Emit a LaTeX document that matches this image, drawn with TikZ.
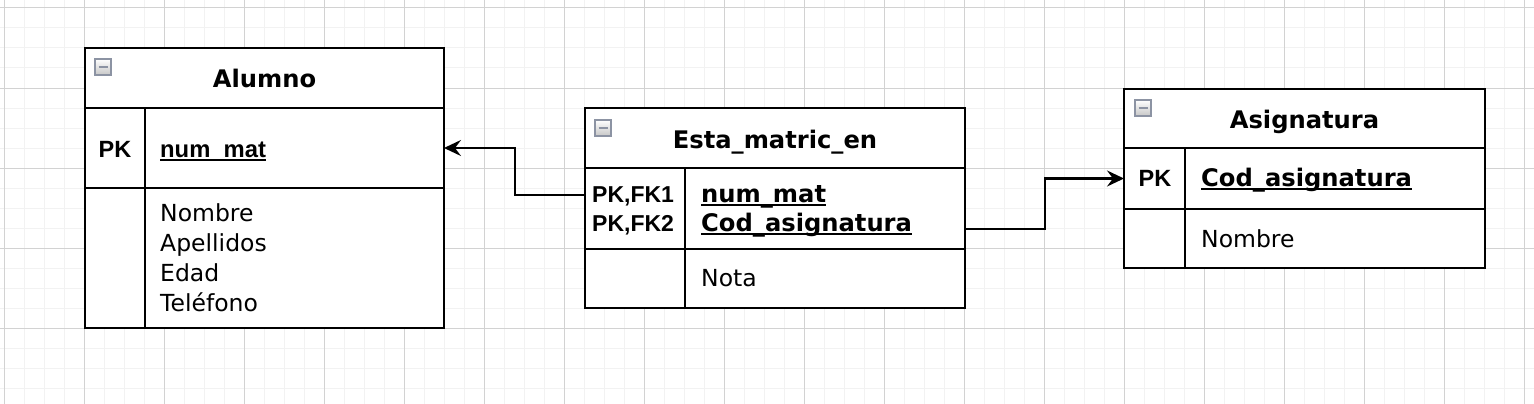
\documentclass[tikz,border=0pt]{standalone}
\usepackage{fontspec}
\setmainfont{DejaVu Sans}
\newfontfamily\helv{Liberation Sans}
\usetikzlibrary{arrows.meta}
\definecolor{rejillamenor}{HTML}{F2F2F2}
\definecolor{rejillamayor}{HTML}{D2D2D2}
\definecolor{bordeicono}{HTML}{8C93A3}
\tikzset{
  fila/.style={draw, line width=2.4, anchor=north west, inner sep=0, outer sep=0, fill=white},
  titulo/.style={anchor=base, inner sep=0, font=\fontsize{24.2}{28}\selectfont\bfseries},
  clave/.style={anchor=base, inner sep=0, font=\fontsize{23.5}{28}\selectfont\helv\bfseries},
  clavelista/.style={anchor=base west, inner sep=0, font=\fontsize{23}{28}\selectfont\helv\bfseries},
  campo/.style={anchor=base west, inner sep=0, font=\fontsize{23.5}{28}\selectfont},
  campopk/.style={campo, font=\fontsize{24.2}{28}\selectfont\bfseries},
  campopkh/.style={campo, font=\fontsize{23.8}{28}\selectfont\helv\bfseries},
  icono/.style={draw=bordeicono, line width=1.5, minimum size=16, inner sep=0,
    top color=white, bottom color=black!22,
    path picture={\draw[line width=2.5] ([xshift=-4.5]path picture bounding box.center) -- ([xshift=4.5]path picture bounding box.center);}},
  subrayado/.style={line width=2},
  relacion/.style={line width=2.2, -{Stealth[length=17, width=16, inset=6]}}
}
\begin{document}
\begin{tikzpicture}[x=1pt, y=-1pt]
\useasboundingbox (0,0) rectangle (1534,404);
\fill[white] (0,0) rectangle (1534,404);

\foreach \x in {4,24,...,1524} \draw[rejillamenor, line width=1] (\x,0) -- (\x,404);
\foreach \y in {8,28,...,404} \draw[rejillamenor, line width=1] (0,\y) -- (1534,\y);
\foreach \x in {4,84,...,1524} \draw[rejillamayor, line width=1] (\x,0) -- (\x,404);
\foreach \y in {8,88,...,404} \draw[rejillamayor, line width=1] (0,\y) -- (1534,\y);

\node[fila, minimum width=359, minimum height=60] (alumnotit) at (85,48) {};
\node[fila, minimum width=359, minimum height=80] (alumnopk) at (85,108) {};
\node[fila, minimum width=359, minimum height=140] (alumnoatr) at (85,188) {};
\draw[line width=2.4] (145,108) -- (145,328);
\node[icono] (alumnoico) at (103,67) {};
\node[titulo] (alumnonom) at (264.5,88) {Alumno};
\node[clave] (alumnok) at (115,157) {PK};
\node[campopkh] (alumnonum) at (160,157) {num\_mat};
\draw[subrayado] ([yshift=-3]alumnonum.base west) -- ([yshift=-3]alumnonum.base east);
\node[campo] (alumno1) at (160,221) {Nombre};
\node[campo] (alumno2) at (160,251) {Apellidos};
\node[campo] (alumno3) at (160,281) {Edad};
\node[campo] (alumno4) at (160,311) {Teléfono};

\node[fila, minimum width=380, minimum height=60] (estatit) at (585,108) {};
\node[fila, minimum width=380, minimum height=81] (estapk) at (585,168) {};
\node[fila, minimum width=380, minimum height=59] (estaatr) at (585,249) {};
\draw[line width=2.4] (685,168) -- (685,308);
\node[icono] (estaico) at (603,128) {};
\node[titulo] (estanom) at (775,148) {Esta\_matric\_en};
\node[clavelista] (estak1) at (592,202) {PK,FK1};
\node[clavelista] (estak2) at (592,231) {PK,FK2};
\node[campopk] (estanum) at (701,202) {num\_mat};
\node[campopk] (estacod) at (701,231) {Cod\_asignatura};
\draw[subrayado] ([yshift=-3]estanum.base west) -- ([yshift=-3]estanum.base east);
\draw[subrayado] ([yshift=-3]estacod.base west) -- ([yshift=-3]estacod.base east);
\node[campo] (esta1) at (701,286) {Nota};

\node[fila, minimum width=361, minimum height=59] (asigtit) at (1124,89) {};
\node[fila, minimum width=361, minimum height=61] (asigpk) at (1124,148) {};
\node[fila, minimum width=361, minimum height=59] (asigatr) at (1124,209) {};
\draw[line width=2.4] (1185,148) -- (1185,268);
\node[icono] (asigico) at (1143,108) {};
\node[titulo] (asignom) at (1304.5,128) {Asignatura};
\node[clave] (asigk) at (1155,186) {PK};
\node[campopk] (asigcod) at (1201,186) {Cod\_asignatura};
\draw[subrayado] ([yshift=-3]asigcod.base west) -- ([yshift=-3]asigcod.base east);
\node[campo] (asig1) at (1201,247) {Nombre};

\coordinate (fk1) at (585,195);
\coordinate (fk2) at (965,229);
\draw[relacion] (fk1) -- (515,195) |- (alumnopk.east);
\draw[relacion] (fk2) -- (1045,229) |- (asigpk.west);
\end{tikzpicture}
\end{document}
